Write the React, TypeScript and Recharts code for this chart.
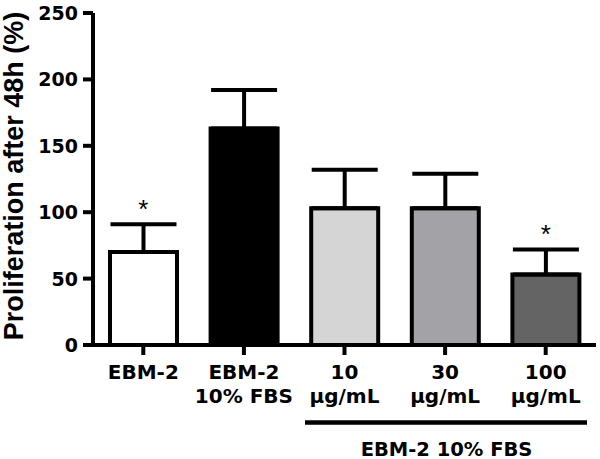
import {
  Bar,
  Cell,
  ComposedChart,
  ErrorBar,
  Label,
  LabelList,
  Line,
  XAxis,
  YAxis,
} from "recharts";

// values
const categories = ["EBM-2", "EBM-2\n10% FBS", "10\nµg/mL", "30\nµg/mL", "100\nµg/mL"];
const means = [70, 163, 103, 103, 53];
const errors = [21, 29, 29, 26, 19];
const significant = [true, false, false, false, true];
const fills = ["#ffffff", "#000000", "#d5d5d5", "#a3a3a7", "#646464"];
const yTicks = [0, 50, 100, 150, 200, 250];
const yLabel = "Proliferation after 48h (%)";
const groupLabel = "EBM-2 10% FBS";

const data = categories.map((name, i) => ({
  name,
  value: means[i],
  err: [0, errors[i]],
  top: means[i] + errors[i],
  star: significant[i] ? "*" : "",
}));

const tickFont = "DejaVu Sans, sans-serif";

function XTick(props: any) {
  const { x, y, payload } = props;
  const lines = String(payload.value).split("\n");
  return (
    <text x={x} y={y} textAnchor="middle" fontFamily={tickFont} fontWeight="bold" fontSize={20} fill="#000">
      {lines.map((l, i) => (
        <tspan key={i} x={x} dy={i === 0 ? 22 : 24}>
          {l}
        </tspan>
      ))}
    </text>
  );
}

function YTick(props: any) {
  const { x, y, payload } = props;
  return (
    <text x={x} y={y} dy={7} textAnchor="end" fontFamily={tickFont} fontWeight="bold" fontSize={19} fill="#000">
      {payload.value}
    </text>
  );
}

function StarLabel(props: any) {
  const { x, y, value } = props;
  if (!value) return null;
  return (
    <text x={x} y={y - 6} textAnchor="middle" fontFamily="Liberation Sans, Arial, sans-serif" fontSize={26} fill="#000">
      {value}
    </text>
  );
}

export default function App() {
  return (
    <div style={{ position: "absolute", left: 0, top: 0, width: 600, height: 459, background: "#fff" }}>
      <ComposedChart width={600} height={459} data={data} margin={{ top: 13, right: 4, left: 0, bottom: 0 }}>
        <XAxis
          dataKey="name"
          height={114}
          interval={0}
          tick={<XTick />}
          tickSize={10}
          axisLine={{ stroke: "#000", strokeWidth: 4 }}
          tickLine={{ stroke: "#000", strokeWidth: 4 }}
        >
          <Label
            content={(p: any) => {
              const vb = p.viewBox;
              return (
                <g>
                  <line x1={vb.x + 212} x2={vb.x + 494} y1={vb.y + 77.5} y2={vb.y + 77.5} stroke="#000" strokeWidth={4.5} />
                  <text
                    x={vb.x + 353.5}
                    y={vb.y + 110.5}
                    textAnchor="middle"
                    fontFamily={tickFont}
                    fontWeight="bold"
                    fontSize={19.5}
                    fill="#000"
                  >
                    {groupLabel}
                  </text>
                </g>
              );
            }}
          />
        </XAxis>
        <YAxis
          width={93}
          domain={[0, 250]}
          ticks={yTicks}
          interval={0}
          tick={<YTick />}
          tickSize={10}
          tickMargin={5}
          axisLine={{ stroke: "#000", strokeWidth: 4 }}
          tickLine={{ stroke: "#000", strokeWidth: 4 }}
        >
          <Label
            content={(p: any) => {
              const vb = p.viewBox;
              const cx = vb.x + 23;
              const cy = vb.y + vb.height / 2 - 3;
              return (
                <text
                  transform={`translate(${cx},${cy}) rotate(-90)`}
                  textAnchor="middle"
                  fontFamily="Liberation Sans, Arial, sans-serif"
                  fontWeight="bold"
                  fontSize={27}
                  fill="#000"
                >
                  {yLabel}
                </text>
              );
            }}
          />
        </YAxis>
        <Bar dataKey="value" barSize={67} stroke="#000" strokeWidth={4} isAnimationActive={false}>
          {data.map((d, i) => (
            <Cell key={d.name} fill={fills[i]} />
          ))}
          <ErrorBar dataKey="err" direction="y" width={33} stroke="#000" strokeWidth={4} />
        </Bar>
        <Line
          dataKey="top"
          stroke="none"
          dot={false}
          activeDot={false}
          isAnimationActive={false}
        >
          <LabelList dataKey="star" content={<StarLabel />} />
        </Line>
      </ComposedChart>
    </div>
  );
}
